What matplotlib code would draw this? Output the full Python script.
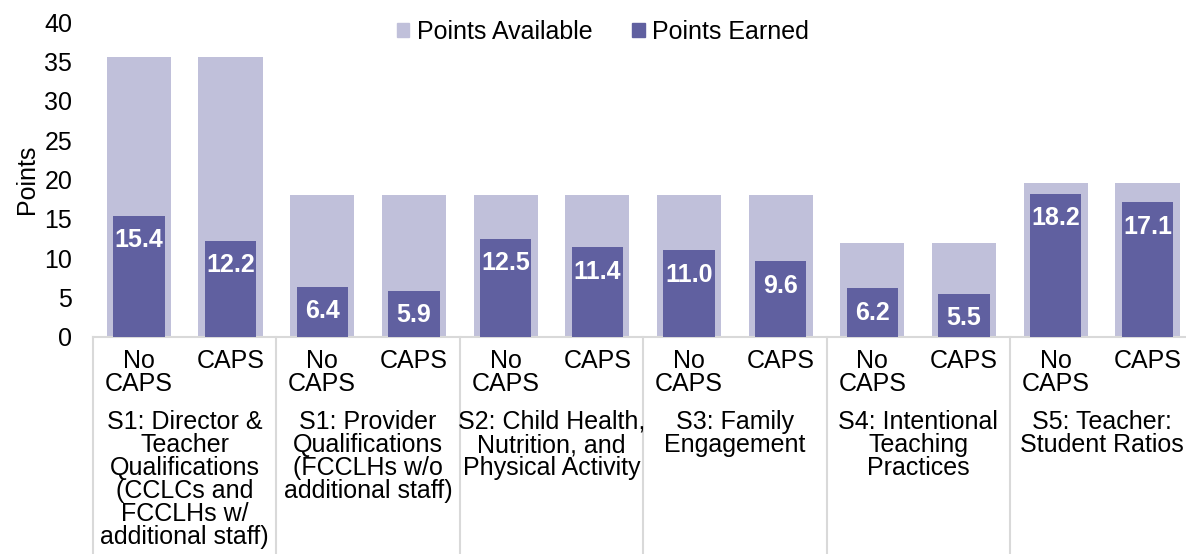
import matplotlib
matplotlib.use("Agg")
import numpy as np
from matplotlib import pyplot as plt
from matplotlib.patches import Patch
import matplotlib.transforms as mtransforms

plt.rcParams['font.family'] = ['Liberation Sans', 'DejaVu Sans']

# data
sub_labels = ["No\nCAPS", "CAPS"] * 6
group_labels = [
    "S1: Director &\nTeacher\nQualifications\n(CCLCs and\nFCCLHs w/\nadditional staff)",
    "S1: Provider\nQualifications\n(FCCLHs w/o\nadditional staff)",
    "S2: Child Health,\nNutrition, and\nPhysical Activity",
    "S3: Family\nEngagement",
    "S4: Intentional\nTeaching\nPractices",
    "S5: Teacher:\nStudent Ratios",
]
points_available = [35.5, 35.5, 18, 18, 18, 18, 18, 18, 12, 12, 19.6, 19.6]
points_earned = [15.4, 12.2, 6.4, 5.9, 12.5, 11.4, 11.0, 9.6, 6.2, 5.5, 18.2, 17.1]

light = "#c0c0da"
dark = "#6060a0"
grid_grey = "#d9d9d9"
fs = 18

W, H = 1186, 554
fig = plt.figure(figsize=(W / 100, H / 100), dpi=100)
ax = fig.add_axes([93 / W, 1 - 337 / H, (W - 93) / W, 315 / H])

x = np.arange(len(points_available))
ax.bar(x, points_available, width=0.70, color=light, zorder=2)
ax.bar(x, points_earned, width=0.56, color=dark, zorder=3)

# value labels inside the dark bars
for xi, v in zip(x, points_earned):
    ax.annotate(f"{v:.1f}", (xi, v), xytext=(0, -9), textcoords="offset points",
                ha="center", va="top", color="white", fontsize=fs,
                fontweight="bold", zorder=4)

ax.set_ylim(0, 40)
ax.set_xlim(-0.5, 11.42)
ax.set_yticks(np.arange(0, 41, 5))
ax.tick_params(axis="y", length=0, pad=15, labelsize=fs)
ax.set_xticks(x)
ax.set_xticklabels(sub_labels, fontsize=fs, linespacing=0.92)
ax.tick_params(axis="x", length=0, pad=9)
ax.set_ylabel("Points", fontsize=fs, labelpad=4)

for s in ["top", "right", "left"]:
    ax.spines[s].set_visible(False)
ax.spines["bottom"].set_color(grid_grey)
ax.spines["bottom"].set_linewidth(1.5)

# category table lines
trans = mtransforms.blended_transform_factory(ax.transData, ax.transAxes)
bottom = (337 - H) / 315
for sep in np.arange(-0.5, 12, 2):
    ax.plot([sep, sep], [0, bottom], color=grid_grey, lw=1.5,
            transform=trans, clip_on=False, zorder=1)

for gi, lab in enumerate(group_labels):
    ax.text(gi * 2 + 0.5, (337 - 410) / 315, lab, transform=trans,
            ha="center", va="top", fontsize=fs, linespacing=0.95)

handles = [Patch(color=light, label="Points Available"),
           Patch(color=dark, label="Points Earned")]
fig.legend(handles=handles, loc="center", bbox_to_anchor=(603 / W, 1 - 32 / H),
           ncol=2, frameon=False, fontsize=fs, handlelength=0.5,
           handleheight=0.5, handletextpad=0.3, columnspacing=1.6)

fig.savefig("out.png", dpi=100)
